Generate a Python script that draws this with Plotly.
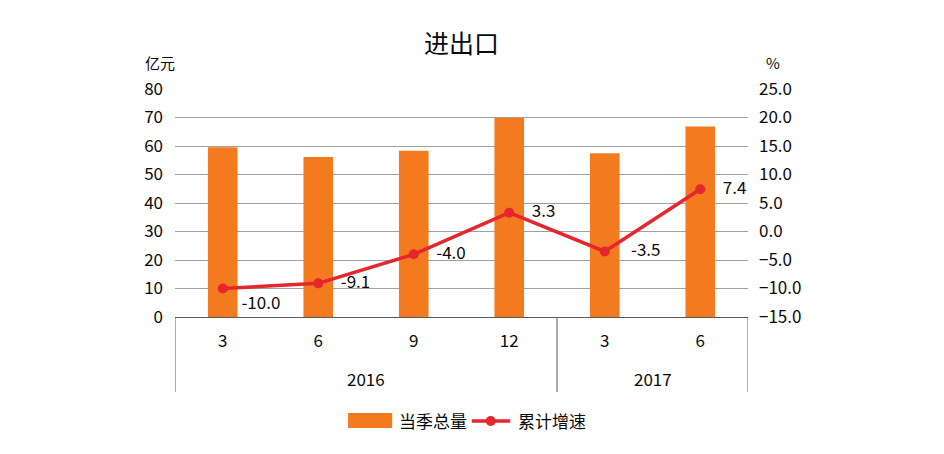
import plotly.graph_objects as go

years = ["2016", "2016", "2016", "2016", "2017", "2017"]
months = ["3", "6", "9", "12", "3", "6"]
totals = [59.6, 56.1, 58.3, 69.9, 57.5, 66.8]
growth = [-10.0, -9.1, -4.0, 3.3, -3.5, 7.4]
label_pos = ["bottom right", "middle right", "middle right", "middle right", "middle right", "middle right"]
label_pad = [3, 4, 4, 4, 5, 4]

FONT = "Noto Sans CJK SC"
ORANGE = "#f47a1f"
RED = "#e5262e"
LINE = "#5a5a5a"
TXT = "#0a0a0a"
FS = 17

cats = [f"{y}-{m}" for y, m in zip(years, months)]

fig = go.Figure()
fig.add_trace(go.Bar(
    x=cats, y=totals, name="当季总量",
    marker=dict(color=ORANGE, line=dict(width=0)), width=0.31, yaxis="y",
    showlegend=False,
))
fig.add_trace(go.Scatter(
    x=cats, y=growth, name="累计增速", yaxis="y2",
    mode="lines+markers+text",
    line=dict(color=RED, width=3.5),
    marker=dict(color=RED, size=10),
    text=["\u00a0" * p + f"{v:.1f}" for v, p in zip(growth, label_pad)],
    textposition=label_pos,
    textfont=dict(family=FONT, size=FS, color=TXT),
    showlegend=False,
))

# group boundaries and year labels derived from the years list
groups = []
start = 0
for i in range(1, len(years) + 1):
    if i == len(years) or years[i] != years[start]:
        groups.append((years[start], start, i - 1))
        start = i

shapes = []
annotations = []
bounds = sorted({g[1] - 0.5 for g in groups} | {g[2] + 0.5 for g in groups})
for b in bounds:
    shapes.append(dict(type="line", xref="x", yref="paper", x0=b, x1=b, y0=0, y1=-0.329,
                       line=dict(color=LINE, width=1)))
for name, a, b in groups:
    annotations.append(dict(text=name, xref="x", yref="paper", x=(a + b) / 2, y=-0.268,
                            xanchor="center", yanchor="middle", showarrow=False,
                            font=dict(family=FONT, size=FS, color=TXT)))

# title and unit labels
annotations += [
    dict(text="进出口", xref="paper", yref="paper", x=0.5, y=1.206, xanchor="center",
         yanchor="middle", showarrow=False, font=dict(family=FONT, size=25, color=TXT)),
    dict(text="亿元", xref="paper", yref="paper", x=-0.026, y=1.118, xanchor="center",
         yanchor="middle", showarrow=False, font=dict(family=FONT, size=15, color=TXT)),
    dict(text="%", xref="paper", yref="paper", x=1.044, y=1.118, xanchor="center",
         yanchor="middle", showarrow=False, font=dict(family=FONT, size=15, color=TXT)),
]

# legend drawn manually
shapes += [
    dict(type="rect", xref="paper", yref="paper", x0=0.302, x1=0.379, y0=-0.487, y1=-0.421,
         fillcolor=ORANGE, line=dict(width=0)),
    dict(type="line", xref="paper", yref="paper", x0=0.518, x1=0.585, y0=-0.456, y1=-0.456,
         line=dict(color=RED, width=3.5)),
    dict(type="circle", xref="paper", yref="paper", x0=0.551 - 0.0087, x1=0.551 + 0.0087,
         y0=-0.456 - 0.022, y1=-0.456 + 0.022, fillcolor=RED, line=dict(width=0)),
]
annotations += [
    dict(text="当季总量", xref="paper", yref="paper", x=0.387, y=-0.456, xanchor="left",
         yanchor="middle", showarrow=False, font=dict(family=FONT, size=FS, color=TXT)),
    dict(text="累计增速", xref="paper", yref="paper", x=0.595, y=-0.456, xanchor="left",
         yanchor="middle", showarrow=False, font=dict(family=FONT, size=FS, color=TXT)),
]

fig.update_layout(
    width=936, height=446,
    margin=dict(l=167, r=196, t=81, b=137, autoexpand=False),
    paper_bgcolor="white", plot_bgcolor="white",
    font=dict(family=FONT, size=FS, color=TXT),
    showlegend=False,
    xaxis=dict(type="category", tickvals=cats, ticktext=months, range=[-0.5, len(cats) - 0.5],
               showline=True, linecolor=LINE, linewidth=1,
               tickfont=dict(family=FONT, size=FS, color=TXT), showgrid=False, ticks="",
               ticklabelstandoff=9),
    yaxis=dict(range=[0, 80], dtick=10, showgrid=True, gridcolor="#a0a0a0", gridwidth=1,
               zeroline=False, showline=False, tickfont=dict(family=FONT, size=FS, color=TXT),
               ticks="", ticklabelstandoff=11),
    yaxis2=dict(range=[-15, 25], dtick=5, tickformat=".1f", overlaying="y", side="right",
                showgrid=False, zeroline=False, showline=False,
                tickfont=dict(family=FONT, size=FS, color=TXT), ticklabelstandoff=10),
    shapes=shapes,
    annotations=annotations,
)

fig.write_html("out.html")
